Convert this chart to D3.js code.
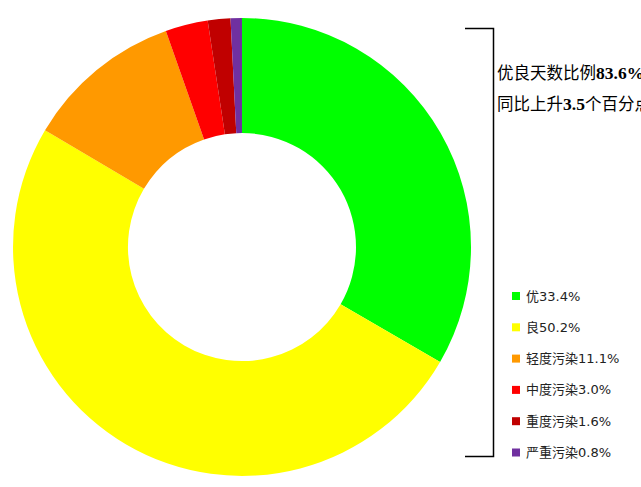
<!DOCTYPE html>
<html>
<head>
<meta charset="utf-8">
<script src="https://cdn.jsdelivr.net/npm/d3@7"></script>
<style>
  body { margin: 0; background: #fff; }
</style>
</head>
<body>
<script>
var width = 641;
var height = 487;

// data
var categories = ['优', '良', '轻度污染', '中度污染', '重度污染', '严重污染'];
var values = [33.4, 50.2, 11.1, 3.0, 1.6, 0.8];
var colors = ['#00ff00', '#ffff00', '#ff9900', '#ff0000', '#c00000', '#7030a0'];
var goodRatio = '83.6%';
var yearChange = '3.5';

var cx = 242, cy = 247;
var outerR = 229, innerR = 114;

var svg = d3.select('body')
  .append('svg')
  .attr('width', width)
  .attr('height', height);

var data = categories.map(function (c, i) {
  return { name: c, value: values[i], color: colors[i] };
});

var pie = d3.pie()
  .value(function (d) { return d.value; })
  .sort(null);

var arc = d3.arc()
  .innerRadius(innerR)
  .outerRadius(outerR);

svg.append('g')
  .attr('transform', 'translate(' + cx + ',' + cy + ')')
  .selectAll('path')
  .data(pie(data))
  .enter()
  .append('path')
  .attr('d', arc)
  .style('fill', function (d) { return d.data.color; });

// bracket
svg.append('path')
  .attr('d', 'M465 28.5 H493.5 V456.5 H465')
  .style('fill', 'none')
  .style('stroke', '#000')
  .style('stroke-width', 1.5);

// notes
var font = '"Liberation Serif", "Noto Sans CJK SC", serif';
var t1 = svg.append('text')
  .attr('x', 497).attr('y', 79)
  .style('font-family', font)
  .style('font-size', '16.5px')
  .style('fill', '#000');
t1.append('tspan').text('优良天数比例');
t1.append('tspan').style('font-weight', 'bold').style('font-size', '17.5px').text(goodRatio);

var t2 = svg.append('text')
  .attr('x', 497).attr('y', 110)
  .style('font-family', font)
  .style('font-size', '16.5px')
  .style('fill', '#000');
t2.append('tspan').text('同比上升');
t2.append('tspan').style('font-weight', 'bold').style('font-size', '17.5px').text(yearChange);
t2.append('tspan').text('个百分点');

// legend
var legend = svg.append('g')
  .selectAll('g')
  .data(data)
  .enter()
  .append('g')
  .attr('transform', function (d, i) { return 'translate(512,' + (292 + i * 31.3) + ')'; });

legend.append('rect')
  .attr('width', 8).attr('height', 8)
  .style('fill', function (d) { return d.color; });

legend.append('text')
  .attr('x', 14).attr('y', 8.5)
  .style('font-family', '"DejaVu Sans", "Noto Sans CJK SC", sans-serif')
  .style('font-size', '13px')
  .style('fill', '#222')
  .text(function (d) { return d.name + d.value.toFixed(1) + '%'; });
</script>
</body>
</html>
